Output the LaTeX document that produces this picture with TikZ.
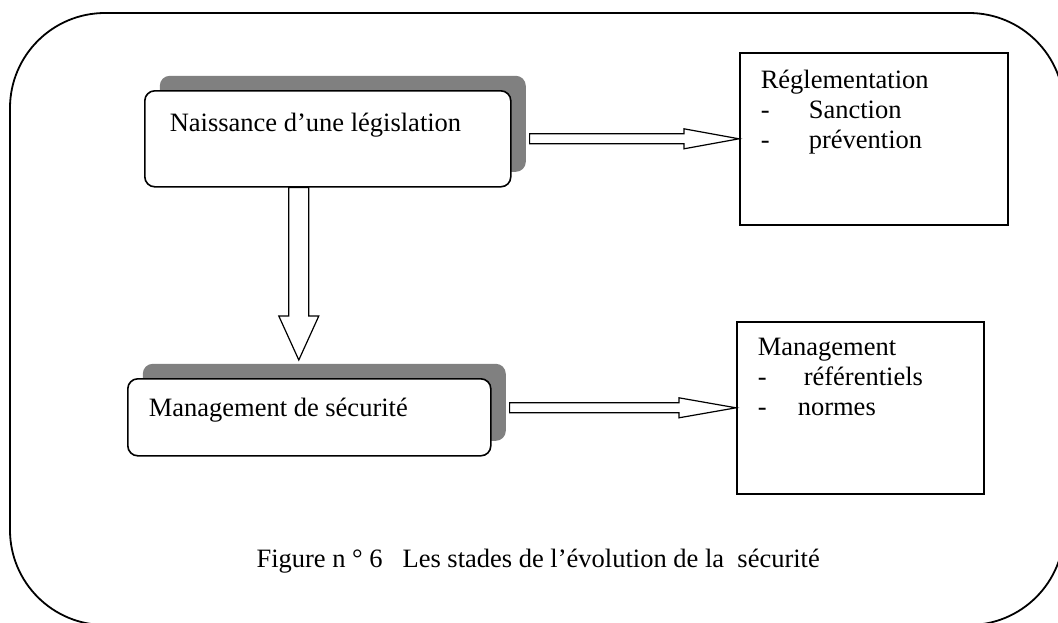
\documentclass[tikz,border=0pt]{standalone}
\usepackage{fontspec}
\setmainfont{Liberation Serif}
\usepackage{tikz}
\usetikzlibrary{calc,shadows}

\begin{document}
\begin{tikzpicture}[x=1pt, y=-1pt, font=\fontsize{26.5}{30}\selectfont,
  rbox/.style={draw, line width=1.6pt, fill=white, rounded corners=10pt,
    anchor=north west, general shadow={fill=gray, shadow xshift=15pt, shadow yshift=15pt}},
  sbox/.style={draw, line width=1.6pt, anchor=north west},
  hollow/.style={draw, fill=white, line width=1.2pt}]
\clip (0,0) rectangle (1058,622);

% outer frame
\draw[line width=1.8pt, rounded corners=95pt] (10,13) rectangle (1064,625);

% stages
\node[rbox, inner xsep=25pt, inner ysep=22pt] (nais) at (144,90)
  {\parbox[t][52pt][t]{316pt}{Naissance d’une législation}};
\node[rbox, inner xsep=21pt, inner ysep=19pt] (secu) at (127,378)
  {\parbox[t][39pt][t]{321pt}{Management de sécurité}};

% what each stage brings
\node[sbox, inner xsep=21pt, inner ysep=17pt] (regl) at (739,52)
  {\parbox[t][138pt][t]{226pt}{Réglementation\\
   \makebox[48pt][l]{-}Sanction\\
   \makebox[48pt][l]{-}prévention}};
\node[sbox, inner xsep=21pt, inner ysep=16pt] (mgmt) at (736,321)
  {\parbox[t][140pt][t]{205pt}{Management\\
   \makebox[46pt][l]{-}référentiels\\
   \makebox[40pt][l]{-}normes}};

% block arrows
\draw[hollow] let \p1=($(nais.east)+(18,0)$), \p2=(regl.west) in
  (\x1,\y2+5pt) -- (\x2-55pt,\y2+5pt) -- (\x2-55pt,\y2+10pt) -- (\x2,\y2)
  -- (\x2-55pt,\y2-10pt) -- (\x2-55pt,\y2-5pt) -- (\x1,\y2-5pt) -- cycle;
\draw[hollow] let \p1=($(secu.east)+(18,0)$), \p2=(mgmt.west) in
  (\x1,\y2+5pt) -- (\x2-57pt,\y2+5pt) -- (\x2-57pt,\y2+10pt) -- (\x2,\y2)
  -- (\x2-57pt,\y2-10pt) -- (\x2-57pt,\y2-5pt) -- (\x1,\y2-5pt) -- cycle;
\draw[hollow] let \p1=($(nais.south)+(-29,0)$), \p2=($(secu.north)+(-10,-18)$) in
  (\x1-10pt,\y1) -- (\x1-10pt,\y2+44pt) -- (\x1-20pt,\y2+44pt) -- (\x1,\y2)
  -- (\x1+20pt,\y2+44pt) -- (\x1+10pt,\y2+44pt) -- (\x1+10pt,\y1) -- cycle;

% caption
\node[anchor=base west] (cap) at (253,567)
  {Figure n~°~6~~~Les stades de l’évolution de la~~sécurité};
\end{tikzpicture}
\end{document}
